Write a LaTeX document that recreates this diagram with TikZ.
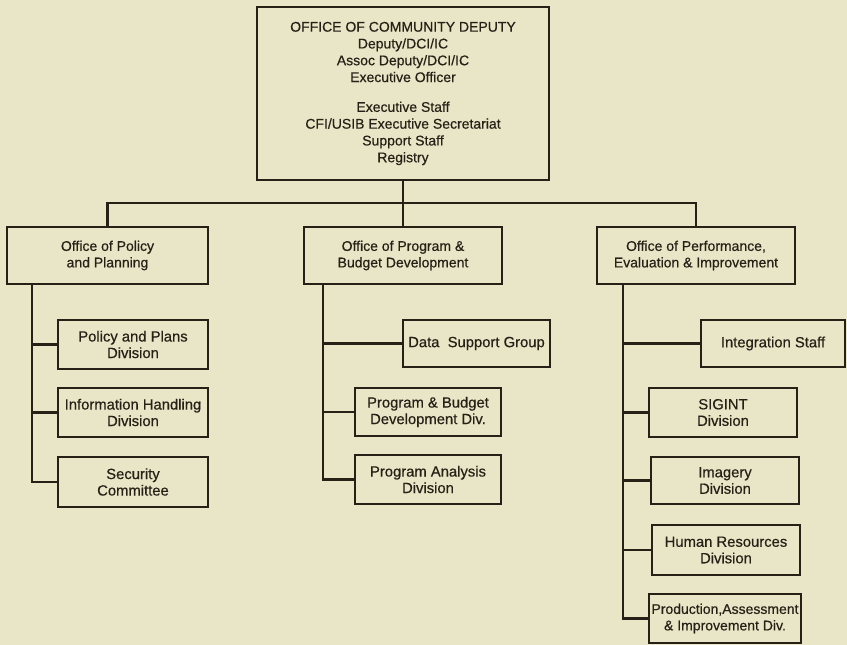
\documentclass[tikz,border=0pt]{standalone}
\usepackage{fontspec}
\setmainfont{Liberation Sans}[FakeBold=0.5]
\definecolor{bg}{RGB}{233,229,199}
\definecolor{ink}{RGB}{38,33,22}
\begin{document}
\begin{tikzpicture}[x=1pt,y=-1pt,
  box/.style={draw=ink, line width=1.8pt, fill=bg, text=ink, align=center, inner sep=0pt, anchor=center},
  topf/.style={font=\fontsize{14}{16.8}\selectfont},
  offf/.style={font=\fontsize{14}{16.5}\selectfont},
  subf/.style={font=\fontsize{14.8}{16.5}\selectfont},
  conn/.style={draw=ink, line width=2.4pt}]
\fill[bg] (0,0) rectangle (847,645);
\useasboundingbox (0,0) rectangle (847,645);

% top
\node[box,topf,minimum width=292pt,minimum height=173pt] (top) at (403,93.5)
 {OFFICE OF COMMUNITY DEPUTY\\Deputy/DCI/IC\\Assoc Deputy/DCI/IC\\Executive Officer\\[13pt]
  Executive Staff\\CFI/USIB Executive Secretariat\\Support Staff\\Registry};

% offices
\node[box,offf,minimum width=201pt,minimum height=57pt] (pol) at (107.5,255.5) {Office of Policy\\and Planning};
\node[box,offf,minimum width=198pt,minimum height=57pt] (prg) at (403,255.5) {Office of Program \&\\Budget Development};
\node[box,offf,minimum width=198pt,minimum height=57pt] (prf) at (696,255.5) {Office of Performance,\\Evaluation \& Improvement};

\coordinate (bus) at (403,203);
\draw[conn] (top.south) -- (prg.north);
\draw[conn] (pol.north) |- (bus) -| (prf.north);

% left column
\node[box,subf,minimum width=150pt,minimum height=49pt] (ppd) at (133,344.5) {Policy and Plans\\Division};
\node[box,subf,minimum width=150pt,minimum height=49pt] (ihd) at (133,412.5) {Information Handling\\Division};
\node[box,subf,minimum width=150pt,minimum height=50pt] (sec) at (133,482) {Security\\Committee};
\coordinate (lt) at (32,284);
\draw[conn] (lt) |- (sec.west);
\draw[conn] (lt |- ppd.west) -- (ppd.west);
\draw[conn] (lt |- ihd.west) -- (ihd.west);

% middle column
\node[box,subf,minimum width=147pt,minimum height=47pt] (dsg) at (476.5,343.5) {Data\ \ Support Group};
\node[box,subf,minimum width=146pt,minimum height=48pt] (pbd) at (428,412) {Program \& Budget\\Development Div.};
\node[box,subf,minimum width=146pt,minimum height=49pt] (pad) at (428,479.5) {Program Analysis\\Division};
\coordinate (mt) at (323,283);
\draw[conn] (mt) |- (pad.west);
\draw[conn] (mt |- dsg.west) -- (dsg.west);
\draw[conn] (mt |- pbd.west) -- (pbd.west);

% right column
\node[box,subf,minimum width=144pt,minimum height=47pt] (int) at (773,343.5) {Integration Staff};
\node[box,subf,minimum width=148pt,minimum height=49pt] (sig) at (723,412.5) {SIGINT\\Division};
\node[box,subf,minimum width=148pt,minimum height=47pt] (img) at (725,480.5) {Imagery\\Division};
\node[box,subf,minimum width=148pt,minimum height=50pt] (hrd) at (726,550) {Human Resources\\Division};
\node[box,subf,minimum width=152pt,minimum height=49pt,font=\fontsize{14}{16.5}\selectfont] (pai) at (725,618.5) {Production,Assessment\\\& Improvement Div.};
\coordinate (rt) at (623,284);
\draw[conn] (rt) |- (pai.west);
\draw[conn] (rt |- int.west) -- (int.west);
\draw[conn] (rt |- sig.west) -- (sig.west);
\draw[conn] (rt |- img.west) -- (img.west);
\draw[conn] (rt |- hrd.west) -- (hrd.west);
\end{tikzpicture}
\end{document}
